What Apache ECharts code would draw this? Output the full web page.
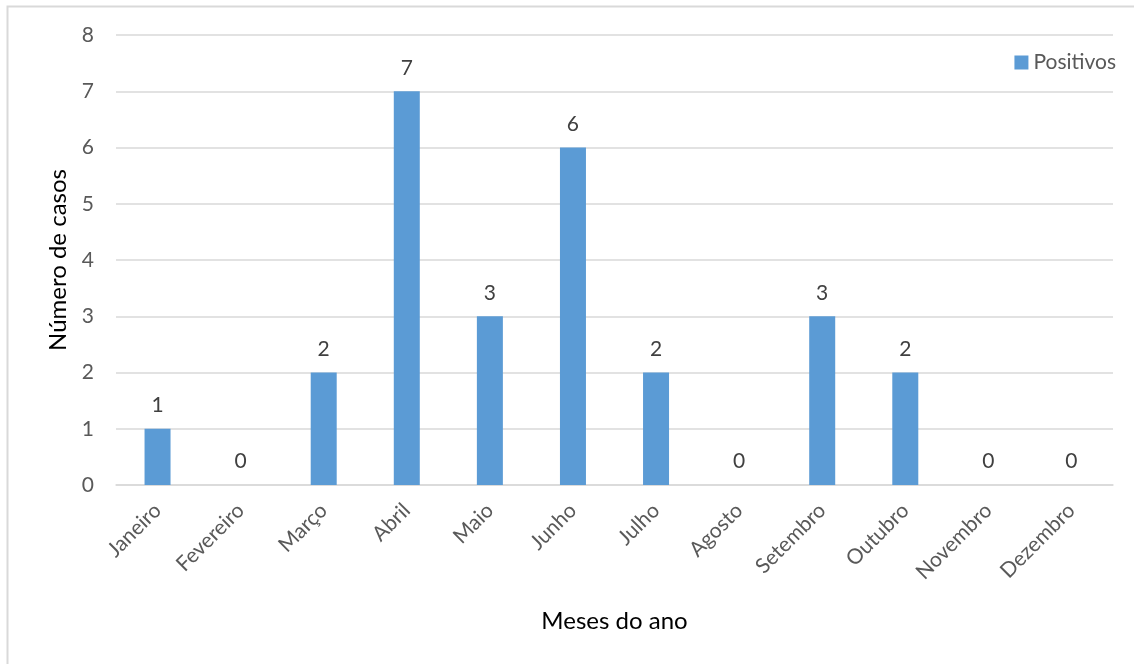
<!DOCTYPE html>
<html>
<head>
<meta charset="utf-8">
<script src="https://cdn.jsdelivr.net/npm/echarts@6/dist/echarts.min.js"></script>
<style>html,body{margin:0;padding:0;background:#fff}#c{width:1134px;height:664px}</style>
</head>
<body>
<div id="c"></div>
<script>
const categories = ['Janeiro','Fevereiro','Março','Abril','Maio','Junho','Julho','Agosto','Setembro','Outubro','Novembro','Dezembro'];
const positivos = [1,0,2,7,3,6,2,0,3,2,0,0];
const seriesName = 'Positivos';
const xAxisTitle = 'Meses do ano';
const yAxisTitle = 'Número de casos';

const font = 'Lato, "Open Sans", sans-serif';
const chart = echarts.init(document.getElementById('c'));
chart.setOption({
  animation: false,
  backgroundColor: '#fff',
  graphic: [{
    type: 'rect', shape: {x: 7.5, y: 6.5, width: 1140, height: 700},
    style: {fill: 'none', stroke: '#d9d9d9', lineWidth: 2}, silent: true
  }],
  legend: {
    data: [seriesName], right: 13, top: 47, itemWidth: 14, itemHeight: 14, itemGap: 6,
    icon: 'rect',
    textStyle: {fontFamily: font, fontSize: 21, color: '#595959'}
  },
  grid: {left: 116, right: 21, top: 35, bottom: 179, containLabel: false},
  xAxis: {
    type: 'category', data: categories,
    name: xAxisTitle, nameLocation: 'middle', nameGap: 124,
    nameTextStyle: {fontFamily: font, fontSize: 24, color: '#000'},
    axisLine: {show: true, lineStyle: {color: '#d9d9d9', width: 1.5}},
    axisTick: {show: false},
    axisLabel: {rotate: 45, fontFamily: font, fontSize: 21, color: '#595959', margin: 22, interval: 0}
  },
  yAxis: {
    type: 'value', min: 0, max: 8, interval: 1,
    name: yAxisTitle, nameLocation: 'middle', nameGap: 46, nameRotate: 90,
    nameTextStyle: {fontFamily: font, fontSize: 24, color: '#000'},
    axisLine: {show: false}, axisTick: {show: false},
    axisLabel: {fontFamily: font, fontSize: 21, color: '#595959', margin: 22},
    splitLine: {lineStyle: {color: '#d9d9d9', width: 1.5}}
  },
  series: [{
    name: seriesName, type: 'bar', data: positivos, barWidth: 26,
    itemStyle: {color: '#5b9bd5'},
    label: {show: true, position: 'top', distance: 13, fontFamily: font, fontSize: 21, color: '#404040'}
  }]
});
</script>
</body>
</html>
